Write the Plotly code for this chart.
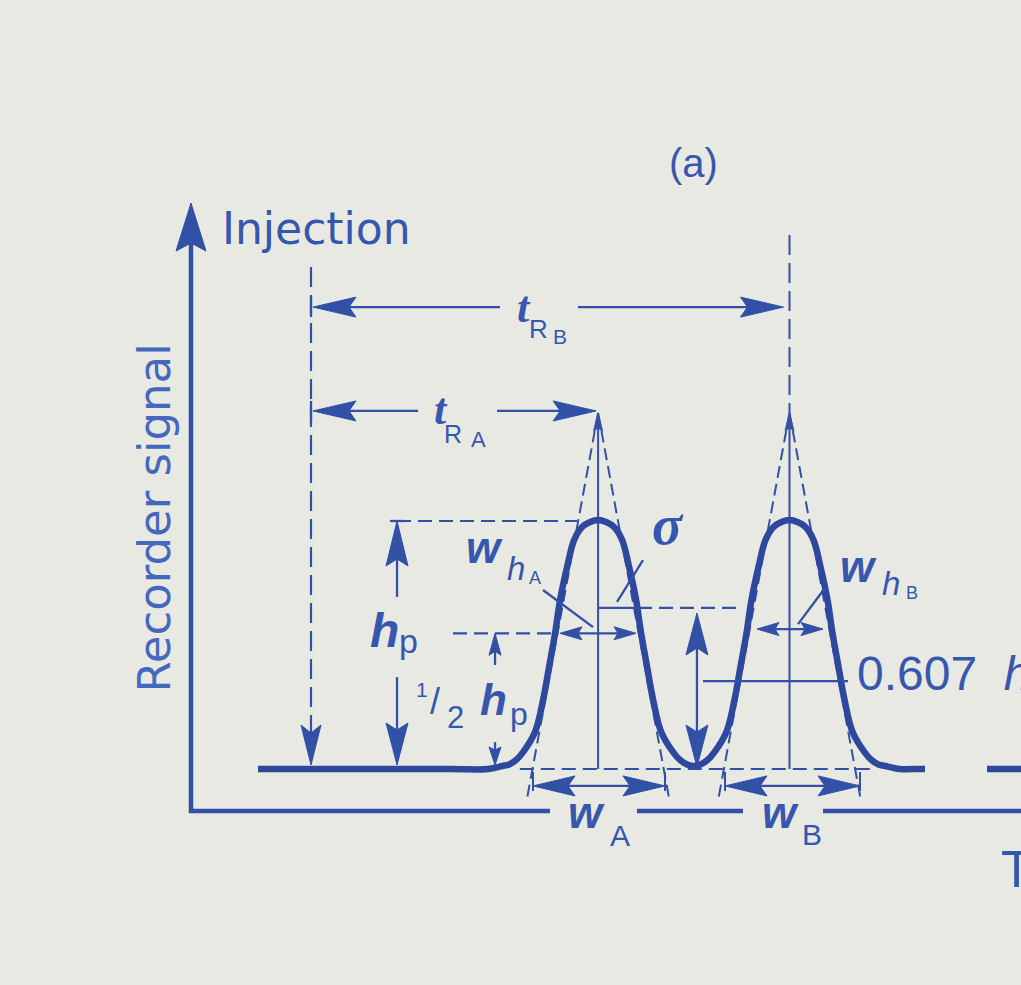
import plotly.graph_objects as go

# ---------------- values ----------------
PEAKS = ["A", "B"]
RETENTION_TIME = [3.0, 5.0]          # t_R of peak A and peak B (time units)
INJECTION_TIME = 0.0
PEAK_HEIGHT = 1.0                    # h_p (signal units)
BASELINE = 0.0
# half profile of each drawn peak: time offset from t_R and signal as a fraction of h_p
PROFILE_OFFSET = [0.0, 0.084, 0.167, 0.251, 0.324, 0.397, 0.449, 0.512, 0.575, 0.658, 0.784, 0.857, 0.930, 1.0]
PROFILE_LEVEL = [1.0, 0.992, 0.972, 0.920, 0.811, 0.679, 0.546, 0.410, 0.277, 0.150, 0.068, 0.036, 0.018, 0.012]
FOOT_OFFSET = 1.15                   # outer side of a peak meets the baseline here
TRACE_START, TRACE_END, TRACE_RESUME = -0.554, 6.416, 7.064
TANGENT_APEX = 1.43                  # where the inflection tangents meet
TANGENT_FOOT = -0.124                # lower end of the tangent lines
TANGENT_HALF_SPAN = 0.745            # half span of tangents at their foot
HALF_LEVEL = 0.545                   # "1/2 h_p" level as drawn
SIGMA_LEVEL = 0.647                  # sigma level as drawn
LEADER_0607 = 0.353                  # "0.607 h" leader level
WH_TIPS = [(2.602, 3.396), (4.660, 5.350)]   # w_h arrow tips (A, B)
WH_LEVEL = [0.545, 0.562]
W_TIPS = [(2.320, 3.699), (4.326, 5.737)]    # w arrow tips (A, B)
W_LEVEL = -0.068
TR_LEVEL = [1.438, 1.855]            # t_R_A and t_R_B arrows
TIME_AXIS_LEVEL = -0.169
SIGNAL_AXIS_TIME = -1.254
SIGNAL_AXIS_TOP = 2.273

# ---------------- canvas ----------------
W, H = 1021, 985
X_RANGE = [-3.2497, 7.4190]
Y_RANGE = [-0.8675, 3.0884]
KX = W / (X_RANGE[1] - X_RANGE[0])   # px per time unit
KY = H / (Y_RANGE[1] - Y_RANGE[0])   # px per signal unit

INK = "#3150A6"
CURVE_INK = "#2D489C"
TEXT_INK = "#3757AF"
LIGHT_TEXT = "#4568BE"
BG = "#E8E9E3"
SANS = "Liberation Sans"
SERIF = "Liberation Serif"
WIDE = "DejaVu Sans"
DASH_V = "20px,8px"
DASH_H = "14px,7px"
DASH_T = "12px,6px"

fig = go.Figure()


def line(xs, ys, width=2.3, dash=None, color=INK):
    fig.add_trace(go.Scatter(x=xs, y=ys, mode="lines",
                             line=dict(color=color, width=width, dash=dash),
                             hoverinfo="skip", showlegend=False))


DIRS = {"up": (0, 1), "down": (0, -1), "left": (-1, 0), "right": (1, 0)}


def head(x, y, d, length=42, half=10, notch=7, color=INK):
    ux, uy = DIRS[d]
    nx, ny = -uy, ux
    pts = [(0, 0),
           (-length * ux + half * nx, -length * uy + half * ny),
           (-(length - notch) * ux, -(length - notch) * uy),
           (-length * ux - half * nx, -length * uy - half * ny),
           (0, 0)]
    fig.add_trace(go.Scatter(x=[x + p[0] / KX for p in pts], y=[y + p[1] / KY for p in pts],
                             mode="lines", fill="toself", fillcolor=color,
                             line=dict(color=color, width=1),
                             hoverinfo="skip", showlegend=False))


def label(text, x, y, size, family=SANS, color=TEXT_INK, xanchor="center", angle=0):
    fig.add_annotation(x=x, y=y, xref="x", yref="y", text=text, showarrow=False,
                       font=dict(family=family, size=size, color=color),
                       xanchor=xanchor, yanchor="middle", textangle=angle, borderpad=0)


px_t = 1 / KX   # one pixel in time units
px_s = 1 / KY   # one pixel in signal units

# ---------------- axes of the recorder chart ----------------
line([SIGNAL_AXIS_TIME, SIGNAL_AXIS_TIME], [TIME_AXIS_LEVEL - 2 * px_s, SIGNAL_AXIS_TOP - 40 * px_s], width=4.5)
head(SIGNAL_AXIS_TIME, SIGNAL_AXIS_TOP, "up", 48, 15, 8)
for a, b in [(SIGNAL_AXIS_TIME - 2 * px_t, 2.497), (3.406, 4.514), (5.350, 7.6)]:
    line([a, b], [TIME_AXIS_LEVEL, TIME_AXIS_LEVEL], width=4.5)

# ---------------- injection marker and retention-time arrows ----------------
line([INJECTION_TIME, INJECTION_TIME], [2.016, BASELINE + 30 * px_s], dash=DASH_V, width=2.2)
head(INJECTION_TIME, BASELINE + 4 * px_s, "down", 40, 10, 8)
tr_gaps = [(1.118, 1.944), (1.975, 2.79)]
tr_ends = [RETENTION_TIME[0] - 2 * px_t, RETENTION_TIME[1] - 6 * px_t]
for lvl, (g0, g1), end in zip(TR_LEVEL, tr_gaps, tr_ends):
    start = INJECTION_TIME + 2 * px_t
    line([start + 20 * px_t, g0], [lvl, lvl])
    head(start, lvl, "left", 43, 10, 7)
    line([g1, end - 20 * px_t], [lvl, lvl])
    head(end, lvl, "right", 43, 10, 7)
    line([INJECTION_TIME, INJECTION_TIME], [lvl - 10 * px_s, lvl + 10 * px_s])
line([RETENTION_TIME[1], RETENTION_TIME[1]], [2.145, TANGENT_APEX], dash=DASH_V, width=2.0)

# ---------------- construction lines of each peak ----------------
line([RETENTION_TIME[0] - TANGENT_HALF_SPAN - 7 * px_t, RETENTION_TIME[1] + TANGENT_HALF_SPAN + 10 * px_t],
     [BASELINE, BASELINE], dash=DASH_H, width=2.2)
for tr in RETENTION_TIME:
    line([tr, tr], [BASELINE, TANGENT_APEX - 10 * px_s], width=2.0)
    head(tr, TANGENT_APEX, "up", 18, 4.5, 3)
    for sgn in (-1, 1):
        line([tr, tr + sgn * TANGENT_HALF_SPAN], [TANGENT_APEX, TANGENT_FOOT], dash=DASH_T, width=2.0)

# ---------------- the recorded signal ----------------
half_sep = (RETENTION_TIME[1] - RETENTION_TIME[0]) / 2
first, last = RETENTION_TIME[0], RETENTION_TIME[-1]
curve_t = [TRACE_START, first - FOOT_OFFSET - 0.4, first - FOOT_OFFSET]
curve_s = [BASELINE, BASELINE, BASELINE]
pairs = list(zip(PROFILE_OFFSET, PROFILE_LEVEL))
for i, tr in enumerate(RETENTION_TIME):
    for off, lev in reversed(pairs):
        if i > 0 and off >= half_sep:
            continue
        curve_t.append(tr - off)
        curve_s.append(BASELINE + lev * PEAK_HEIGHT)
    for off, lev in pairs[1:]:
        if i < len(RETENTION_TIME) - 1 and off >= half_sep:
            continue
        curve_t.append(tr + off)
        curve_s.append(BASELINE + lev * PEAK_HEIGHT)
    if i < len(RETENTION_TIME) - 1:
        mid = (tr + RETENTION_TIME[i + 1]) / 2
        curve_t.append(mid)
        curve_s.append(BASELINE + PROFILE_LEVEL[-1] * PEAK_HEIGHT)
curve_t += [last + FOOT_OFFSET, last + FOOT_OFFSET + 0.2, TRACE_END]
curve_s += [BASELINE, BASELINE, BASELINE]
fig.add_trace(go.Scatter(x=curve_t, y=curve_s, mode="lines",
                         line=dict(color=CURVE_INK, width=6.5, shape="spline", smoothing=1.0),
                         hoverinfo="skip", showlegend=False))
line([TRACE_RESUME, 7.6], [BASELINE, BASELINE], width=6.5, color=CURVE_INK)

# ---------------- h_p and 1/2 h_p ----------------
hp_t = 0.899
line([hp_t, RETENTION_TIME[0] - 0.22], [PEAK_HEIGHT - 1 * px_s] * 2, dash=DASH_H, width=2.2)
line([hp_t - 7 * px_t, hp_t + 8 * px_t], [PEAK_HEIGHT - 1 * px_s] * 2)
head(hp_t, PEAK_HEIGHT - 1 * px_s, "up", 45, 11, 7)
line([hp_t, hp_t], [PEAK_HEIGHT - 30 * px_s, 0.691])
line([hp_t, hp_t], [0.369, BASELINE + 30 * px_s])
head(hp_t, BASELINE + 4 * px_s, "down", 42, 11, 7)

half_t = 1.923
line([1.484, 2.56], [HALF_LEVEL, HALF_LEVEL], dash=DASH_H, width=2.2)
head(half_t, HALF_LEVEL, "up", 22, 6, 4)
line([half_t, half_t], [HALF_LEVEL - 15 * px_s, 0.418])
line([half_t, half_t], [0.108, BASELINE + 12 * px_s])
head(half_t, BASELINE + 4 * px_s, "down", 18, 6, 3)

# ---------------- widths at half height ----------------
for (a, b), lvl in zip(WH_TIPS, WH_LEVEL):
    line([a + 10 * px_t, b - 10 * px_t], [lvl, lvl])
    head(a, lvl, "left", 22, 6.5, 4)
    head(b, lvl, "right", 22, 6.5, 4)
line([2.424, 2.947], [0.719, 0.570])        # w_hA leader
line([5.371, 5.089], [0.727, 0.582])        # w_hB leader

# ---------------- sigma and 0.607 h ----------------
line([RETENTION_TIME[0], 3.417], [SIGMA_LEVEL, SIGMA_LEVEL])
line([3.417, 4.483], [SIGMA_LEVEL, SIGMA_LEVEL], dash=DASH_H, width=2.2)
line([3.469, 3.198], [0.839, 0.671])        # sigma leader
v_t = 4.033
line([v_t, v_t], [SIGMA_LEVEL - 30 * px_s, BASELINE + 30 * px_s])
head(v_t, 0.6265, "up", 42, 11, 7)
head(v_t, BASELINE + 2 * px_s, "down", 42, 11, 7)
line([4.096, 5.611], [LEADER_0607, LEADER_0607])

# ---------------- base widths ----------------
for a, b in W_TIPS:
    line([a + 20 * px_t, b - 20 * px_t], [W_LEVEL, W_LEVEL])
    head(a, W_LEVEL, "left", 42, 10, 7)
    head(b, W_LEVEL, "right", 42, 10, 7)
    for t in (a, b):
        line([t, t], [BASELINE - 3 * px_s, W_LEVEL - 5 * px_s], width=2.0)

# ---------------- labels ----------------
label("(a)", 4.002, 2.4325, 40)
label("Injection", -0.940, 2.171, 44, family=WIDE, xanchor="left")
label("Recorder signal", -1.636, 1.008, 45, family=WIDE, color=LIGHT_TEXT, angle=-90)

label("<b><i>t</i></b>", 2.226, 1.853, 44, family=SERIF)
label("R", 2.372, 1.766, 26)
label("B", 2.605, 1.736, 21)
label("<b><i>t</i></b>", 1.358, 1.444, 44, family=SERIF)
label("R", 1.483, 1.3466, 25)
label("A", 1.750, 1.325, 22)

label("<b><i>h</i></b>", 0.763, 0.5558, 48)
label("p", 1.023, 0.514, 34)
label("1", 1.160, 0.3185, 21)
label("/", 1.296, 0.273, 36)
label("2", 1.505, 0.2068, 31)
label("<b><i>h</i></b>", 1.902, 0.2811, 44)
label("p", 2.175, 0.2189, 32)

label("<b><i>w</i></b>", 1.808, 0.8888, 44)
label("<i>h</i>", 2.142, 0.8052, 33)
label("A", 2.340, 0.7679, 18)
label("<b><i>σ</i></b>", 3.730, 0.9783, 56, family=SERIF)
label("<b><i>w</i></b>", 5.726, 0.8124, 44)
label("<i>h</i>", 6.060, 0.745, 33)
label("B", 6.279, 0.708, 18)

label("<b><i>w</i></b>", 2.874, -0.1755, 44)
label("A", 3.228, -0.2675, 30)
label("<b><i>w</i></b>", 4.901, -0.1755, 44)
label("B", 5.235, -0.2635, 30)

label("0.607\u00a0 <i>h</i>", 5.695, 0.3843, 48, xanchor="left")
label("Time", 7.200, -0.4028, 51, xanchor="left")

fig.update_layout(
    width=W, height=H, margin=dict(l=0, r=0, t=0, b=0),
    paper_bgcolor=BG, plot_bgcolor=BG,
    xaxis=dict(range=X_RANGE, visible=False, fixedrange=True),
    yaxis=dict(range=Y_RANGE, visible=False, fixedrange=True),
    showlegend=False,
)

fig.write_html("out.html", config={"displayModeBar": False},
               post_script="document.body.style.margin='0';document.body.style.overflow='hidden';")
